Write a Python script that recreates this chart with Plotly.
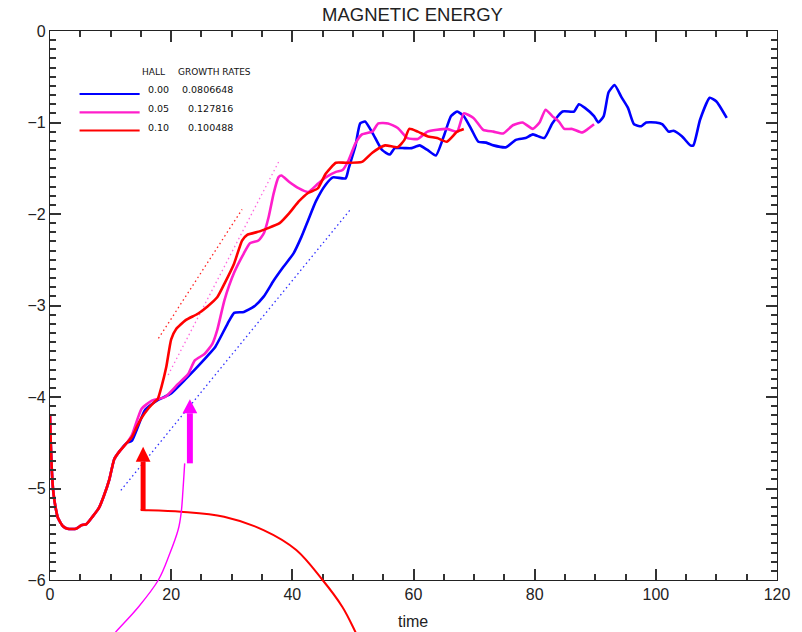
import plotly.graph_objects as go

# ---------------- data ----------------
x_range = [0, 120]
y_range = [-6, 0]
x_tick_step = 20
y_tick_step = 1

hall_values = ["0.00", "0.05", "0.10"]
growth_rates = ["0.0806648", "0.127816", "0.100488"]

# early evolution shared by all three runs
common_t = [0, 0.1, 0.3, 0.55, 0.9, 1.3, 2.1, 2.9, 4.3, 5.2, 6.0, 7.0, 8.1, 8.9, 9.8, 10.6, 11.4, 12.7]
common_y = [-4.2, -4.45, -4.8, -5.04, -5.2, -5.32, -5.41, -5.44, -5.44, -5.40, -5.39, -5.31, -5.21, -5.08, -4.90, -4.68, -4.60, -4.50]

blue_t = [13.5, 15.7, 17.9, 20.0, 22.3, 23.9, 26.0, 27.3, 29.3, 30.4,
          32.0, 33.7, 35.3, 36.9, 38.5, 40.2, 41.5, 42.6, 43.9, 45.5,
          46.7, 48.8, 49.3, 50.4, 51.2, 52.0, 53.2, 54.8, 56.1, 56.9,
          58.5, 59.7, 61.0, 62.3, 63.7, 65.0, 66.2, 67.2, 68.3, 69.6,
          70.7, 72.0, 73.2, 75.3, 76.9, 78.5, 79.7, 81.6, 82.9, 84.6,
          86.5, 87.3, 88.3, 89.8, 90.5, 91.4, 92.2, 93.2, 94.3, 95.4,
          96.4, 97.6, 98.4, 100.0, 101.1, 102.1, 102.9, 104.3, 105.7, 106.2,
          107.3, 108.9, 110.0, 111.7]
blue_y = [-4.48, -4.14, -4.03, -3.96, -3.81, -3.70, -3.55, -3.45, -3.20, -3.08,
          -3.07, -3.01, -2.90, -2.73, -2.58, -2.43, -2.25, -2.07, -1.86, -1.68,
          -1.60, -1.61, -1.50, -1.26, -1.01, -0.99, -1.11, -1.30, -1.35, -1.28,
          -1.28, -1.28, -1.25, -1.30, -1.36, -1.15, -0.93, -0.88, -0.93, -1.08,
          -1.21, -1.22, -1.25, -1.27, -1.19, -1.17, -1.13, -1.17, -1.01, -0.88,
          -0.88, -0.80, -0.84, -0.93, -1.00, -0.93, -0.67, -0.59, -0.72, -0.84,
          -1.02, -1.04, -1.00, -1.00, -1.02, -1.10, -1.09, -1.15, -1.25, -1.25,
          -0.97, -0.73, -0.77, -0.95]

magenta_t = [13.5, 15.1, 16.8, 19.0, 21.1, 22.8, 23.9, 25.5, 26.8, 27.6,
             28.8, 30.4, 32.0, 33.0, 34.4, 35.3, 36.1, 36.9, 37.7, 38.2,
             39.5, 41.1, 42.6, 44.2, 45.5, 47.2, 48.3, 49.3, 50.4, 51.5,
             53.2, 54.2, 55.8, 57.4, 59.0, 60.7, 62.3, 63.9, 65.5, 67.2,
             68.3, 69.9, 71.5, 73.2, 74.8, 76.4, 78.0, 79.7, 80.8, 81.8,
             82.9, 84.0, 84.9, 86.2, 87.8, 88.6, 89.8]
magenta_y = [-4.42, -4.13, -4.04, -4.00, -3.86, -3.75, -3.60, -3.53, -3.42, -3.27,
             -2.94, -2.64, -2.43, -2.32, -2.29, -2.21, -2.03, -1.78, -1.60, -1.58,
             -1.65, -1.72, -1.76, -1.67, -1.60, -1.54, -1.52, -1.41, -1.23, -1.13,
             -1.10, -1.01, -1.01, -1.06, -1.17, -1.18, -1.10, -1.08, -1.07, -1.10,
             -0.90, -0.95, -1.08, -1.10, -1.12, -1.03, -1.00, -1.07, -1.00, -0.86,
             -0.93, -0.99, -1.07, -1.07, -1.11, -1.08, -1.02]

red_t = [13.5, 14.3, 15.1, 16.3, 17.3, 17.8, 18.4, 19.2, 20.0, 20.8,
         22.4, 24.4, 26.0, 27.6, 28.8, 30.4, 31.7, 32.5, 34.6, 35.8,
         37.9, 39.5, 41.1, 42.6, 44.2, 45.5, 47.2, 48.8, 51.5, 53.2,
         55.3, 57.4, 58.5, 59.3, 60.7, 62.3, 63.9, 65.5, 67.2, 68.3]
red_y = [-4.44, -4.33, -4.23, -4.12, -4.05, -4.02, -3.89, -3.67, -3.37, -3.26,
         -3.16, -3.09, -3.01, -2.91, -2.76, -2.54, -2.29, -2.23, -2.19, -2.16,
         -2.10, -1.99, -1.86, -1.77, -1.72, -1.56, -1.44, -1.44, -1.43, -1.33,
         -1.25, -1.27, -1.19, -1.07, -1.10, -1.15, -1.17, -1.21, -1.10, -1.07]

# linear growth fits (dotted): start/end time and value
fit_blue_t = [11.7, 49.6]
fit_blue_y = [-5.02, -1.95]
fit_magenta_t = [19.5, 37.9]
fit_magenta_y = [-3.76, -1.41]
fit_red_t = [17.9, 31.7]
fit_red_y = [-3.36, -1.95]

# onset markers (arrow time, bottom, head base, tip) and connecting curves
red_arrow = [15.37, -5.235, -4.707, -4.543]
magenta_arrow = [23.09, -4.725, -4.178, -4.025]
red_curve_t = [14.96, 21.63, 28.73, 35.24, 40.65, 44.99, 48.24, 50.41, 51.38]
red_curve_y = [-5.235, -5.254, -5.308, -5.454, -5.672, -6.0, -6.292, -6.568, -6.71]
magenta_curve_t = [22.23, 21.95, 21.67, 21.14, 19.79, 17.89, 14.63, 10.85, 9.43]
magenta_curve_y = [-4.725, -5.016, -5.254, -5.454, -5.708, -6.0, -6.292, -6.568, -6.678]

BLUE = "#0000FF"
PINK = "#FF1ECB"
MAGENTA = "#FF00FF"
RED = "#FF0000"
AX = "#222222"
FONT = "Liberation Sans"

W, H = 802, 632
ML, MR, MT, MB = 50, 14, 31, 52
PW, PH = W - ML - MR, H - MT - MB


def xp(t):
    return (t - x_range[0]) / (x_range[1] - x_range[0])


def yp(v):
    return (v - y_range[0]) / (y_range[1] - y_range[0])


def pxp(px):  # pixel -> paper x
    return (px - ML) / PW


def pyp(py):  # pixel -> paper y
    return (H - MB - py) / PH


def smooth_path(xs, ys):
    pts = list(zip(xs, ys))
    d = "M %.5f,%.5f" % pts[0]
    for i in range(len(pts) - 1):
        p0 = pts[i - 1] if i > 0 else pts[i]
        p1 = pts[i]
        p2 = pts[i + 1]
        p3 = pts[i + 2] if i + 2 < len(pts) else pts[i + 1]
        c1 = (p1[0] + (p2[0] - p0[0]) / 6, p1[1] + (p2[1] - p0[1]) / 6)
        c2 = (p2[0] - (p3[0] - p1[0]) / 6, p2[1] - (p3[1] - p1[1]) / 6)
        d += " C %.5f,%.5f %.5f,%.5f %.5f,%.5f" % (c1 + c2 + p2)
    return d


fig = go.Figure()

# dotted fits
for ft, fy, col in [(fit_blue_t, fit_blue_y, "#3030FF"),
                    (fit_magenta_t, fit_magenta_y, "#FF66DD"),
                    (fit_red_t, fit_red_y, "#FF2020")]:
    fig.add_trace(go.Scatter(x=ft, y=fy, mode="lines",
                             line=dict(color=col, width=1.3, dash="1.5px,3px"),
                             hoverinfo="skip", showlegend=False))

for tt, yy, col in [(blue_t, blue_y, BLUE), (magenta_t, magenta_y, PINK), (red_t, red_y, RED)]:
    fig.add_trace(go.Scatter(x=common_t + tt, y=common_y + yy, mode="lines",
                             line=dict(color=col, width=2.6, shape="spline", smoothing=0.5),
                             showlegend=False))

shapes = []
annotations = []

# arrows
for (ta, yb, yh, ytip), col, hw in [(red_arrow, RED, 0.41), (magenta_arrow, MAGENTA, 0.49)]:
    hh = 1.22
    shapes.append(dict(type="rect", xref="x", yref="y", x0=ta - hw, x1=ta + hw, y0=yb, y1=yh,
                       fillcolor=col, line=dict(width=0), layer="above"))
    shapes.append(dict(type="path", xref="x", yref="y",
                       path="M %f,%f L %f,%f L %f,%f Z" % (ta - hh, yh, ta + hh, yh, ta, ytip),
                       fillcolor=col, line=dict(width=0), layer="above"))

shapes.append(dict(type="path", xref="paper", yref="paper",
                   path=smooth_path([xp(v) for v in red_curve_t], [yp(v) for v in red_curve_y]),
                   line=dict(color=RED, width=2), layer="above"))
shapes.append(dict(type="path", xref="paper", yref="paper",
                   path=smooth_path([xp(v) for v in magenta_curve_t], [yp(v) for v in magenta_curve_y]),
                   line=dict(color=MAGENTA, width=1.4), layer="above"))

# legend (drawn by hand, like the original)
leg_line_y = [94, 112.3, 130.5]
leg_text_y = [90, 108.3, 127.8]
rate_x = [181.7, 188, 188]
for i, col in enumerate([BLUE, PINK, RED]):
    shapes.append(dict(type="line", xref="paper", yref="paper",
                       x0=pxp(80), x1=pxp(141), y0=pyp(leg_line_y[i]), y1=pyp(leg_line_y[i]),
                       line=dict(color=col, width=2.2)))
    annotations.append(dict(xref="paper", yref="paper", x=pxp(147), y=pyp(leg_text_y[i]),
                            xanchor="left", yanchor="middle", showarrow=False,
                            text=hall_values[i], font=dict(family="DejaVu Sans", size=9.5, color="#111")))
    annotations.append(dict(xref="paper", yref="paper", x=pxp(rate_x[i]), y=pyp(leg_text_y[i]),
                            xanchor="left", yanchor="middle", showarrow=False,
                            text=growth_rates[i], font=dict(family="DejaVu Sans", size=9.5, color="#111")))
annotations.append(dict(xref="paper", yref="paper", x=pxp(141), y=pyp(72.3),
                        xanchor="left", yanchor="middle", showarrow=False,
                        text="HALL", font=dict(family="DejaVu Sans", size=9, color="#111")))
annotations.append(dict(xref="paper", yref="paper", x=pxp(177.5), y=pyp(72.3),
                        xanchor="left", yanchor="middle", showarrow=False,
                        text="GROWTH RATES", font=dict(family="DejaVu Sans", size=9, color="#111")))

# title and x-axis label
annotations.append(dict(xref="paper", yref="paper", x=pxp(418), y=pyp(14.5),
                        xanchor="center", yanchor="middle", showarrow=False,
                        text="MAGNETIC ENERGY", font=dict(family=FONT, size=18.5, color=AX)))
annotations.append(dict(xref="paper", yref="paper", x=pxp(418), y=pyp(621),
                        xanchor="center", yanchor="middle", showarrow=False,
                        text="time", font=dict(family=FONT, size=16, color=AX)))

TW = 1.6
fig.update_layout(
    width=W, height=H,
    margin=dict(l=ML, r=MR, t=MT, b=MB),
    paper_bgcolor="white", plot_bgcolor="white",
    showlegend=False,
    shapes=shapes, annotations=annotations,
    xaxis=dict(range=x_range, dtick=x_tick_step, ticks="inside", ticklen=11, tickwidth=TW, tickcolor="#333333",
               showline=True, linecolor=AX, linewidth=1.3, mirror="ticks", showgrid=False, zeroline=False,
               tickfont=dict(family=FONT, size=16, color=AX),
               minor=dict(dtick=5, ticks="inside", ticklen=6, tickwidth=TW, tickcolor="#333333")),
    yaxis=dict(range=y_range, dtick=y_tick_step, ticks="inside", ticklen=11, tickwidth=TW, tickcolor="#333333",
               showline=True, linecolor=AX, linewidth=1.3, mirror="ticks", showgrid=False, zeroline=False,
               tickfont=dict(family=FONT, size=16, color=AX),
               minor=dict(dtick=0.1, ticks="inside", ticklen=6, tickwidth=TW, tickcolor="#333333")),
)

fig.write_html("out.html")
